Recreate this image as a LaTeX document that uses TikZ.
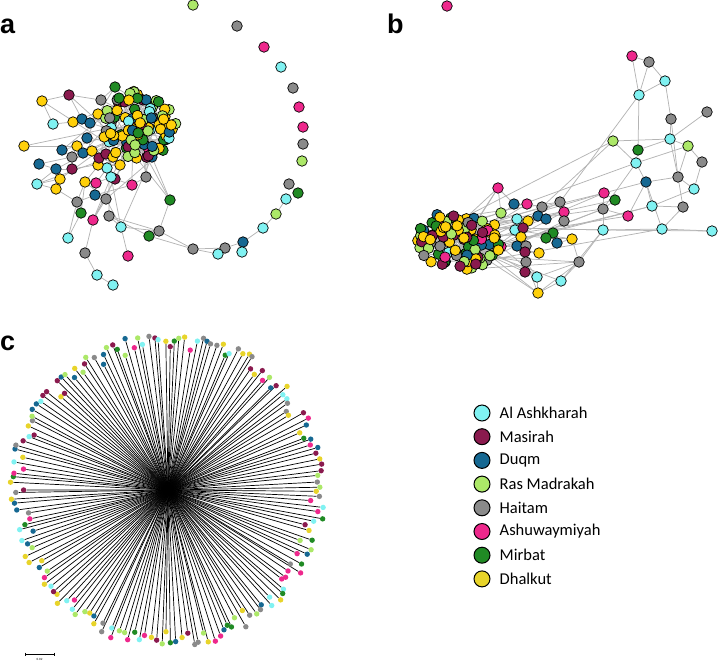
\documentclass[tikz,border=0pt]{standalone}
\usepackage{fontspec}
\setsansfont{Liberation Sans}
\newfontfamily\keyfont{Carlito}
\usetikzlibrary{calc}
% colours of the eight sites
\definecolor{cyn}{RGB}{128,242,242}
\definecolor{mar}{RGB}{138,26,78}
\definecolor{duq}{RGB}{22,104,146}
\definecolor{lgr}{RGB}{172,232,104}
\definecolor{gry}{RGB}{138,138,138}
\definecolor{pnk}{RGB}{238,40,140}
\definecolor{grn}{RGB}{32,138,36}
\definecolor{yel}{RGB}{255,208,10}
\definecolor{tipyel}{RGB}{232,212,42}
\definecolor{linkgray}{RGB}{180,180,180}
\pgfdeclarelayer{links}
\pgfsetlayers{links,main}
\pgfmathdeclarerandomlist{mixa}{{yel}{yel}{yel}{yel}{yel}{grn}{grn}{grn}{lgr}{lgr}{mar}{mar}{duq}{gry}{cyn}}
\pgfmathdeclarerandomlist{mixb}{{yel}{yel}{yel}{grn}{grn}{lgr}{lgr}{mar}{mar}{gry}{duq}{pnk}{cyn}}
\pgfmathdeclarerandomlist{mixc}{{cyn}{mar}{duq}{lgr}{gry}{pnk}{grn}{tipyel}}
\tikzset{
  gn/.style={circle, draw=black, line width=0.7pt, minimum size=10.5pt, inner sep=0pt},
  lnk/.style={draw=linkgray, line width=0.75pt},
  tipdot/.style={circle, inner sep=0pt, minimum size=5.4pt},
  branch/.style={draw=black, line width=0.7pt},
  keydot/.style={circle, draw=black, line width=1pt, minimum size=16pt, inner sep=0pt},
  keytext/.style={anchor=west, inner sep=0pt, font=\keyfont\fontsize{16.5}{18}\selectfont},
  panel/.style={anchor=base west, inner sep=0pt, font=\sffamily\bfseries\fontsize{27}{27}\selectfont}
}
\begin{document}
\begin{tikzpicture}[x=1pt, y=-1pt]
\useasboundingbox (0,0) rectangle (718,662);
\pgfmathsetseed{4242}
% ---------------- panel a ----------------
\node[panel] (la) at (0,33) {a};
\foreach \n/\x/\y/\c in {1/193/5/lgr, 2/237/26/gry, 3/264/47/pnk, 4/281/67/cyn, 5/293/88/gry,
  6/299/107/pnk, 7/303/127/pnk, 8/303/144/gry, 9/302/161/lgr, 10/289/184/gry, 11/298/193/grn,
  12/286/199/cyn, 13/276/214/lgr, 14/263/228/cyn, 15/243/242/duq, 16/242/252/cyn, 17/225/248/gry,
  18/218/254/cyn, 19/193/249/gry, 20/159/231/gry, 21/149/236/grn, 22/170/200/grn, 23/121/227/cyn,
  24/128/256/pnk, 25/68/238/cyn, 26/85/253/gry, 27/97/275/cyn, 28/113/285/cyn, 29/93/220/pnk,
  30/81/213/grn, 31/77/202/gry, 32/109/216/gry, 33/106/199/gry, 34/95/195/duq, 35/96/183/pnk,
  36/85/182/yel, 37/115/179/mar, 38/132/185/pnk, 39/146/177/gry, 40/107/168/cyn, 41/111/177/cyn,
  42/56/189/yel, 43/60/179/yel, 44/37/184/cyn, 45/56/169/duq, 46/39/164/duq, 47/72/169/mar,
  48/72/157/gry, 49/62/150/duq, 50/24/146/yel, 51/77/146/yel, 52/83/153/duq, 53/92/151/yel,
  54/53/124/cyn, 55/73/122/yel, 56/82/119/duq, 57/90/123/duq, 58/42/101/yel, 59/69/95/mar,
  60/101/100/gry, 61/115/87/grn, 62/98/114/yel, 63/87/138/duq, 64/149/150/pnk, 65/98/165/yel,
  66/120/165/yel, 67/99/158/mar, 68/106/154/mar, 69/113/157/yel}
  \node[gn, fill=\c] (a\n) at (\x,\y) {};
\foreach \i in {1,...,100}{
  \pgfmathsetmacro\ang{360*rnd}
  \pgfmathsetmacro\rad{sqrt(rnd)}
  \pgfmathrandomitem\col{mixa}
  \node[gn, fill=\col] (ca\i) at ({139+37*\rad*cos(\ang)}, {126+35*\rad*sin(\ang)}) {};
}
\begin{pgfonlayer}{links}
\foreach \u/\v in {12/13, 13/14, 14/15, 15/16, 15/17, 17/18, 17/19, 18/19, 19/20, 19/21, 20/22,
  21/32, 22/64, 20/23, 23/32, 23/24, 23/41, 23/33, 25/31, 26/27, 27/28, 26/29, 29/33, 29/37,
  29/41, 30/31, 31/34, 31/42, 32/20, 33/34, 33/36, 34/38, 34/35, 35/36, 35/41, 37/38, 37/41,
  38/39, 39/64, 42/43, 42/44, 43/44, 43/45, 45/46, 45/47, 44/45, 46/48, 47/48, 48/49, 48/51,
  49/51, 50/51, 51/52, 52/53, 53/63, 63/62, 54/55, 54/58, 58/59, 59/60, 59/56, 55/56, 56/57,
  57/62, 60/61, 61/62, 65/66, 66/67, 67/68, 68/69, 65/53, 30/36, 31/36, 25/30}
  \draw[lnk] (a\u) -- (a\v);
\foreach \j in {22,23,29,33,35,37,38,39,40,41,44,45,47,48,49,50,51,52,53,55,56,57,58,60,61,
  62,63,64,65,66,67,68,69,59,36,43,22,39,64,32}{
  \pgfmathtruncatemacro\q{random(1,100)}
  \draw[lnk] (a\j) -- (ca\q);
}
\foreach \k in {1,...,160}{
  \pgfmathtruncatemacro\p{random(1,100)}
  \pgfmathtruncatemacro\q{random(1,100)}
  \ifnum\p=\q\else\draw[lnk] (ca\p) -- (ca\q);\fi
}
\end{pgfonlayer}
% ---------------- panel b ----------------
\node[panel] (lb) at (387,33) {b};
\foreach \n/\x/\y/\c in {1/447/6/pnk, 2/632/56/pnk, 3/649/62/gry, 4/665/81/cyn, 5/639/95/cyn,
  6/707/112/gry, 7/671/119/gry, 8/613/141/lgr, 9/670/139/cyn, 10/688/146/lgr, 11/638/150/grn,
  12/702/162/gry, 13/636/163/cyn, 14/678/177/gry, 15/646/182/duq, 16/694/189/cyn, 17/604/193/pnk,
  18/615/200/grn, 19/498/188/pnk, 20/560/202/gry, 21/652/206/cyn, 22/683/207/gry, 23/628/216/pnk,
  24/603/209/gry, 25/603/230/cyn, 26/662/229/cyn, 27/712/231/cyn, 28/514/204/duq, 29/527/204/pnk,
  30/542/207/gry, 31/564/212/pnk, 32/564/221/gry, 33/501/213/lgr, 34/553/233/grn, 35/546/238/grn,
  36/557/243/duq, 37/572/239/yel, 38/517/219/cyn, 39/515/230/cyn, 40/528/221/yel, 41/538/216/duq,
  42/546/219/duq, 43/523/228/mar, 44/521/237/yel, 45/517/246/duq, 46/526/246/gry, 47/539/253/yel,
  48/525/252/mar, 49/526/262/gry, 50/525/272/mar, 51/537/277/cyn, 52/561/281/cyn, 53/538/293/yel,
  54/579/262/gry}
  \node[gn, fill=\c] (b\n) at (\x,\y) {};
\foreach \i in {1,...,100}{
  \pgfmathsetmacro\ang{360*rnd}
  \pgfmathsetmacro\rad{sqrt(rnd)}
  \pgfmathrandomitem\col{mixb}
  \node[gn, fill=\col] (cb\i) at ({460+43*\rad*cos(\ang)}, {240+31*\rad*sin(\ang)}) {};
}
\begin{pgfonlayer}{links}
\foreach \u/\v in {2/3, 2/5, 3/5, 3/4, 4/5, 4/7, 5/11, 5/20, 6/9, 7/9, 7/14, 8/9, 8/30, 8/13,
  9/14, 10/12, 10/13, 10/14, 11/13, 13/15, 13/24, 14/16, 14/22, 14/15, 15/21, 15/23, 15/26,
  15/17, 16/21, 17/18, 17/24, 18/24, 22/21, 22/26, 26/27, 25/26, 25/27, 23/24, 24/25, 25/54,
  54/53, 54/51, 52/25, 53/51, 53/52, 53/49, 19/28, 19/33, 20/31, 20/30, 29/30, 31/32, 28/29,
  37/54, 36/37, 34/35, 51/49, 52/54, 12/16, 9/10, 11/9}
  \draw[lnk] (b\u) -- (b\v);
\foreach \j in {8,13,17,17,18,20,20,21,23,24,24,25,25,26,30,31,31,32,37,37,51,52,53,54,54,
  19,19,19,28,29,33,38,40,41,42,46,47,49,50,51,53,24,17,21}{
  \pgfmathtruncatemacro\q{random(1,100)}
  \draw[lnk] (b\j) -- (cb\q);
}
\foreach \k in {1,...,160}{
  \pgfmathtruncatemacro\p{random(1,100)}
  \pgfmathtruncatemacro\q{random(1,100)}
  \ifnum\p=\q\else\draw[lnk] (cb\p) -- (cb\q);\fi
}
\end{pgfonlayer}
% ---------------- panel c ----------------
\node[panel] (lc) at (0,350) {c};
\coordinate (hub) at (168,490);
\foreach \i in {0,...,179}{
  \pgfmathsetmacro\ang{\i*2+1.2*rnd}
  \pgfmathsetmacro\len{141+18*rnd}
  \pgfmathrandomitem\col{mixc}
  \node[tipdot, fill=\col] (leaf\i) at ($(hub)+(\ang:\len)$) {};
  \begin{pgfonlayer}{links}
    \draw[branch] (hub) -- (leaf\i);
  \end{pgfonlayer}
}
\coordinate (sbl) at (25,654);
\coordinate (sbr) at (54,654);
\draw[line width=0.6pt] (sbl) -- (sbr) (sbl) ++(0,-1.5) -- ++(0,3) (sbr) ++(0,-1.5) -- ++(0,3);
\node[font=\sffamily\fontsize{3}{3}\selectfont, inner sep=0pt] (sbt) at (39.5,659) {0.02};
% ---------------- key ----------------
\foreach \c/\t [count=\k] in {cyn/Al Ashkharah, mar/Masirah, duq/Duqm, lgr/Ras Madrakah,
  gry/Haitam, pnk/Ashuwaymiyah, grn/Mirbat, tipyel/Dhalkut}{
  \node[keydot, fill=\c] (key\k) at (482,{413+23.7*(\k-1)}) {};
  \node[keytext] (lab\k) at ($(key\k.east)+(9,0)$) {\t};
}
\end{tikzpicture}
\end{document}
